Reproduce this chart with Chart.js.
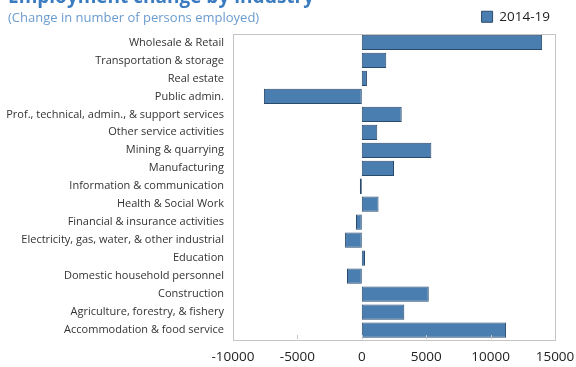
<!DOCTYPE html>
<html>
<head>
<meta charset="utf-8">
<script src="https://cdn.jsdelivr.net/npm/chart.js@4.4.0/dist/chart.umd.min.js"></script>
<style>
  html, body { margin: 0; padding: 0; background: #fff; }
  #wrap { width: 576px; height: 367px; position: relative; }
</style>
</head>
<body>
<div id="wrap"><canvas id="grafico"></canvas></div>
<script>
// industries, top to bottom
const industrias = [
  'Wholesale & Retail',
  'Transportation & storage',
  'Real estate',
  'Public admin.',
  'Prof., technical, admin., & support services',
  'Other service activities',
  'Mining & quarrying',
  'Manufacturing',
  'Information & communication',
  'Health & Social Work',
  'Financial & insurance activities',
  'Electricity, gas, water, & other industrial',
  'Education',
  'Domestic household personnel',
  'Construction',
  'Agriculture, forestry, & fishery',
  'Accommodation & food service'
];
// change in persons employed, 2014-19
const variacao = [14000, 1900, 400, -7600, 3100, 1200, 5400, 2500, -150, 1300, -450, -1300, 250, -1150, 5200, 3300, 11200];
const serie = '2014-19';
const ticksX = [-10000, -5000, 0, 5000, 10000, 15000];

const titulo = 'Employment change by industry';
const subtitulo = '(Change in number of persons employed)';

// title + subtitle drawn at top left, plus frame and inner ticks of the plot
const moldura = {
  id: 'moldura',
  beforeDraw(chart) {
    // keep the legend above the plot, not flush with the canvas edge
    if (chart.legend) chart.legend.right = chart.chartArea.right - 2;
  },
  afterDraw(chart) {
    const ctx = chart.ctx;
    const a = chart.chartArea;
    ctx.save();
    ctx.fillStyle = '#3b7bbf';
    ctx.font = 'bold 19px "Open Sans"';
    ctx.textBaseline = 'alphabetic';
    ctx.fillText(titulo, 8, 3);
    ctx.fillStyle = '#6b9bcf';
    ctx.font = '13px "Open Sans"';
    ctx.fillText(subtitulo, 8, 22);

    ctx.strokeStyle = '#c4c4c4';
    ctx.lineWidth = 1;
    ctx.strokeRect(Math.round(a.left) + 0.5, Math.round(a.top) + 0.5,
      Math.round(a.right - a.left), Math.round(a.bottom - a.top));
    const x = chart.scales.x;
    ctx.beginPath();
    ticksX.forEach(v => {
      const px = Math.round(x.getPixelForValue(v)) + 0.5;
      ctx.moveTo(px, a.bottom);
      ctx.lineTo(px, a.bottom - 4);
    });
    ctx.stroke();
    ctx.restore();
  }
};

new Chart(document.getElementById('grafico'), {
  type: 'bar',
  data: {
    labels: industrias,
    datasets: [{
      label: serie,
      data: variacao,
      backgroundColor: '#4a7eb0',
      borderColor: '#2a4a6c',
      borderWidth: 1,
      borderSkipped: false,
      barPercentage: 0.85,
      categoryPercentage: 1
    }]
  },
  options: {
    indexAxis: 'y',
    responsive: true,
    maintainAspectRatio: false,
    animation: false,
    layout: { padding: { top: 7, right: 21, left: 0, bottom: 0 } },
    plugins: {
      legend: {
        position: 'top',
        align: 'end',
        labels: {
          color: '#222',
          font: { family: '"Open Sans"', size: 13.5 },
          boxWidth: 11,
          boxHeight: 11,
          padding: 3
        }
      },
      tooltip: { enabled: false }
    },
    scales: {
      x: {
        min: -10000,
        max: 15000,
        grid: { display: false, drawTicks: false },
        border: { display: false },
        afterBuildTicks(scale) { scale.ticks = ticksX.map(v => ({ value: v })); },
        afterFit(scale) {
          scale.height = 28;
          scale.paddingLeft = 0;
          scale.paddingRight = 0;
        },
        ticks: {
          color: '#222',
          padding: 10,
          font: { family: '"Open Sans"', size: 13.5 },
          maxRotation: 0,
          callback: v => String(v)
        }
      },
      y: {
        grid: { display: false, drawTicks: false },
        border: { display: false },
        afterFit(scale) { scale.width = 233; },
        ticks: {
          color: '#333',
          padding: 9,
          autoSkip: false,
          font: { family: '"Open Sans"', size: 11 }
        }
      }
    }
  },
  plugins: [moldura]
});
</script>
</body>
</html>
